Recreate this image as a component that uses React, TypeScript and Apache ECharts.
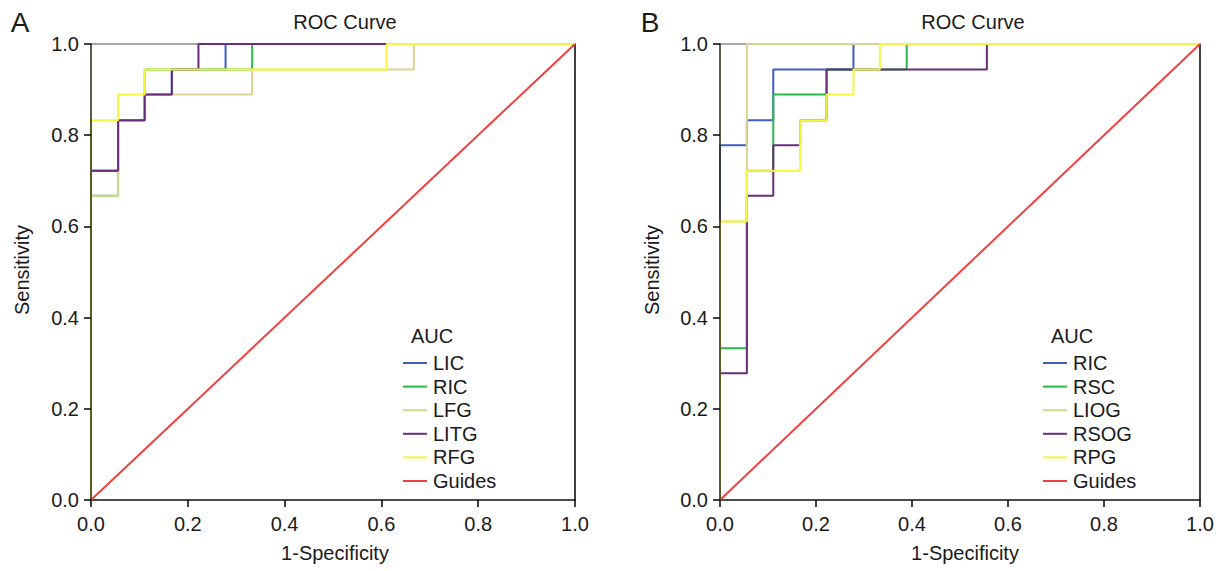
import React, { useEffect, useRef } from "react";
import * as echarts from "echarts";

// ---------- data ----------
const TICKS = [0, 0.2, 0.4, 0.6, 0.8, 1.0];

// Panel A
const A_LIC_X = [0, 0, 0.056, 0.056, 0.111, 0.111, 0.167, 0.167, 0.278, 0.278, 1];
const A_LIC_Y = [0, 0.722, 0.722, 0.833, 0.833, 0.889, 0.889, 0.944, 0.944, 1, 1];
const A_RIC_X = [0, 0, 0.056, 0.056, 0.111, 0.111, 0.333, 0.333, 1];
const A_RIC_Y = [0, 0.667, 0.667, 0.833, 0.833, 0.944, 0.944, 1, 1];
const A_LFG_X = [0, 0, 0.056, 0.056, 0.111, 0.111, 0.333, 0.333, 0.667, 0.667, 1];
const A_LFG_Y = [0, 0.667, 0.667, 0.833, 0.833, 0.889, 0.889, 0.944, 0.944, 1, 1];
const A_LITG_X = [0, 0, 0.056, 0.056, 0.111, 0.111, 0.167, 0.167, 0.222, 0.222, 1];
const A_LITG_Y = [0, 0.722, 0.722, 0.833, 0.833, 0.889, 0.889, 0.944, 0.944, 1, 1];
const A_RFG_X = [0, 0, 0.056, 0.056, 0.111, 0.111, 0.611, 0.611, 1];
const A_RFG_Y = [0, 0.833, 0.833, 0.889, 0.889, 0.944, 0.944, 1, 1];

// Panel B
const B_RIC_X = [0, 0, 0.056, 0.056, 0.111, 0.111, 0.278, 0.278, 1];
const B_RIC_Y = [0, 0.778, 0.778, 0.833, 0.833, 0.944, 0.944, 1, 1];
const B_RSC_X = [0, 0, 0.056, 0.056, 0.111, 0.111, 0.222, 0.222, 0.389, 0.389, 1];
const B_RSC_Y = [0, 0.333, 0.333, 0.722, 0.722, 0.889, 0.889, 0.944, 0.944, 1, 1];
const B_LIOG_X = [0, 0, 0.056, 0.056, 1];
const B_LIOG_Y = [0, 0.611, 0.611, 1, 1];
const B_RSOG_X = [0, 0, 0.056, 0.056, 0.111, 0.111, 0.167, 0.167, 0.222, 0.222, 0.556, 0.556, 1];
const B_RSOG_Y = [0, 0.278, 0.278, 0.667, 0.667, 0.778, 0.778, 0.833, 0.833, 0.944, 0.944, 1, 1];
const B_RPG_X = [0, 0, 0.056, 0.056, 0.167, 0.167, 0.222, 0.222, 0.278, 0.278, 0.333, 0.333, 1];
const B_RPG_Y = [0, 0.611, 0.611, 0.722, 0.722, 0.833, 0.833, 0.889, 0.889, 0.944, 0.944, 1, 1];

const GUIDE_X = [0, 1];
const GUIDE_Y = [0, 1];

const NAMES_A = ["LIC", "RIC", "LFG", "LITG", "RFG", "Guides"];
const NAMES_B = ["RIC", "RSC", "LIOG", "RSOG", "RPG", "Guides"];

const C_BLUE = "#3c5cc4";
const C_GREEN = "#2db84c";
const C_KHAKI = "#d9d394";
const C_PURPLE = "#6a2c7c";
const C_YELLOW = "#f8f53e";
const C_RED = "#f04040";

const COLORS_A = [C_BLUE, C_GREEN, C_KHAKI, C_PURPLE, C_YELLOW, C_RED];
const COLORS_B = [C_BLUE, C_GREEN, C_KHAKI, C_PURPLE, C_YELLOW, C_RED];

const FONT = "'Liberation Sans', Arial, Helvetica, sans-serif";
const TXT = "#1a1a1a";

function zip(xs: number[], ys: number[]) {
  return xs.map((x, i) => [x, ys[i]]);
}

export default function App() {
  const ref = useRef<HTMLDivElement>(null);

  useEffect(() => {
    if (!ref.current) return;
    const chart = echarts.init(ref.current, undefined, { renderer: "svg" });

    const grids = [
      { left: 91, top: 44, width: 484, height: 456 },
      { left: 720, top: 44, width: 480, height: 456 },
    ];

    const xAxes: any[] = [];
    const yAxes: any[] = [];
    [0, 1].forEach((g) => {
      // bottom axis
      xAxes.push({
        type: "value",
        gridIndex: g,
        min: 0,
        max: 1,
        interval: 0.2,
        position: "bottom",
        axisLine: { show: true, lineStyle: { color: "#111", width: 1.6 } },
        axisTick: { show: true, inside: false, length: 7, lineStyle: { color: "#111", width: 1.6 } },
        axisLabel: { fontSize: 20, fontFamily: FONT, color: TXT, margin: 14, formatter: (v: number) => v.toFixed(1) },
        splitLine: { show: false },
      });
      // top border
      xAxes.push({
        type: "value",
        gridIndex: g,
        min: 0,
        max: 1,
        position: "top",
        axisLine: { show: true, onZero: false, lineStyle: { color: "#8a8a8a", width: 1.6 } },
        axisTick: { show: false },
        axisLabel: { show: false },
        splitLine: { show: false },
      });
      // left axis
      yAxes.push({
        type: "value",
        gridIndex: g,
        min: 0,
        max: 1,
        interval: 0.2,
        position: "left",
        z: 3,
        axisLine: { show: true, onZero: false, lineStyle: { color: "#34331f", width: 1.6 } },
        axisTick: { show: true, inside: false, length: 7, lineStyle: { color: "#111", width: 1.6 } },
        axisLabel: { fontSize: 20, fontFamily: FONT, color: TXT, margin: 12, formatter: (v: number) => v.toFixed(1) },
        splitLine: { show: false },
      });
      // right border
      yAxes.push({
        type: "value",
        gridIndex: g,
        min: 0,
        max: 1,
        position: "right",
        axisLine: { show: true, onZero: false, lineStyle: { color: "#111", width: 1.6 } },
        axisTick: { show: false },
        axisLabel: { show: false },
        splitLine: { show: false },
      });
    });

    const mk = (name: string, xs: number[], ys: number[], color: string, panel: number) => ({
      name,
      type: "line",
      xAxisIndex: panel * 2,
      yAxisIndex: panel * 2,
      data: zip(xs, ys),
      showSymbol: false,
      symbol: "none",
      color,
      lineStyle: { color, width: 2 },
      z: 2,
    });

    const seriesA = [
      mk("A:LIC", A_LIC_X, A_LIC_Y, COLORS_A[0], 0),
      mk("A:RIC", A_RIC_X, A_RIC_Y, COLORS_A[1], 0),
      mk("A:LFG", A_LFG_X, A_LFG_Y, COLORS_A[2], 0),
      mk("A:LITG", A_LITG_X, A_LITG_Y, COLORS_A[3], 0),
      mk("A:RFG", A_RFG_X, A_RFG_Y, COLORS_A[4], 0),
      mk("A:Guides", GUIDE_X, GUIDE_Y, COLORS_A[5], 0),
    ];
    const seriesB = [
      mk("B:RIC", B_RIC_X, B_RIC_Y, COLORS_B[0], 1),
      mk("B:RSC", B_RSC_X, B_RSC_Y, COLORS_B[1], 1),
      mk("B:LIOG", B_LIOG_X, B_LIOG_Y, COLORS_B[2], 1),
      mk("B:RSOG", B_RSOG_X, B_RSOG_Y, COLORS_B[3], 1),
      mk("B:RPG", B_RPG_X, B_RPG_Y, COLORS_B[4], 1),
      mk("B:Guides", GUIDE_X, GUIDE_Y, COLORS_B[5], 1),
    ];

    const legendCommon = {
      orient: "vertical",
      icon: "rect",
      itemWidth: 24,
      itemHeight: 2,
      itemGap: 3.6,
      selectedMode: false,
      formatter: (n: string) => n.slice(2),
      textStyle: { fontSize: 20, fontFamily: FONT, color: TXT, lineHeight: 20, padding: [0, 0, 0, 1] },
    };

    const text = (t: string, x: number, y: number, size: number, rot = 0) => ({
      type: "text",
      x,
      y,
      rotation: rot,
      style: { text: t, fill: TXT, font: `${size}px ${FONT}`, align: "center", verticalAlign: "middle" },
    });

    const option: any = {
      animation: false,
      backgroundColor: "#ffffff",
      grid: grids.map((g) => ({ ...g, containLabel: false })),
      xAxis: xAxes,
      yAxis: yAxes,
      legend: [
        { ...legendCommon, left: 398, top: 348, data: NAMES_A.map((n) => "A:" + n) },
        { ...legendCommon, left: 1038, top: 348, data: NAMES_B.map((n) => "B:" + n) },
      ],
      graphic: [
        text("A", 20, 22, 28),
        text("B", 650, 22, 28),
        text("ROC Curve", 345, 22, 20),
        text("ROC Curve", 973, 22, 20),
        text("Sensitivity", 22, 270, 20, Math.PI / 2),
        text("Sensitivity", 652, 270, 20, Math.PI / 2),
        text("1-Specificity", 335, 553, 20),
        text("1-Specificity", 965, 553, 20),
        text("AUC", 432, 336, 20),
        text("AUC", 1072, 336, 20),
      ],
      series: [...seriesA, ...seriesB],
    };

    chart.setOption(option);
    return () => chart.dispose();
  }, []);

  return (
    <div
      ref={ref}
      style={{ position: "absolute", left: 0, top: 0, width: 1228, height: 571, background: "#fff" }}
    />
  );
}
